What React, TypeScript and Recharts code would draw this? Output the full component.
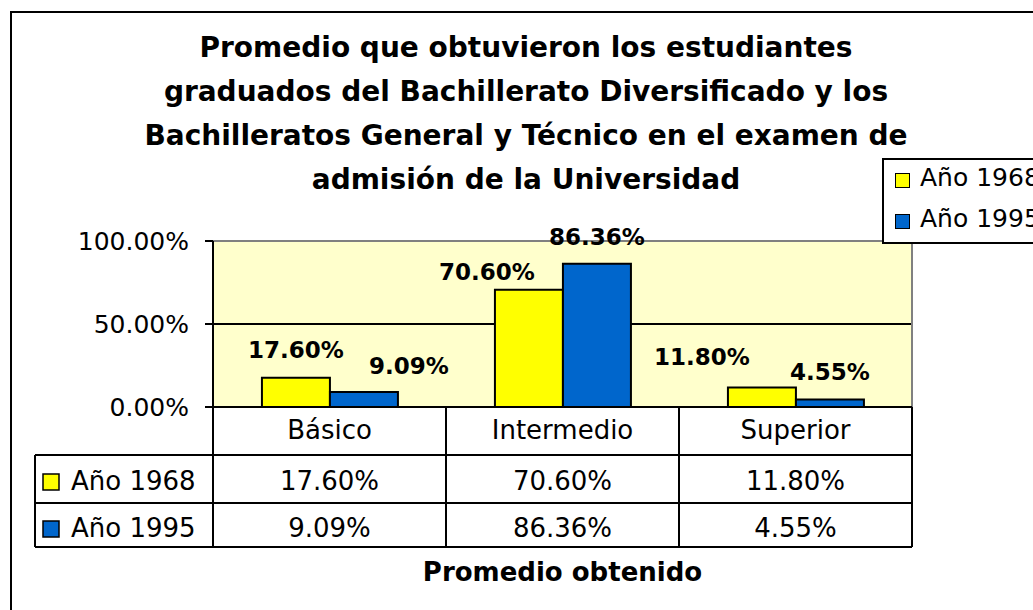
import { BarChart, Bar, XAxis, YAxis, CartesianGrid, ReferenceArea, Legend, LabelList } from 'recharts';

const CATEGORIES = ['Básico', 'Intermedio', 'Superior'];
const SERIES_NAMES = ['Año 1968', 'Año 1995'];
const VALUES_1968 = [17.6, 70.6, 11.8];
const VALUES_1995 = [9.09, 86.36, 4.55];
const Y_TICKS = [0, 50, 100];
const TITLE_LINES = [
  'Promedio que obtuvieron los estudiantes',
  'graduados del Bachillerato Diversificado y los',
  'Bachilleratos General y Técnico en el examen de',
  'admisión de la Universidad',
];
const AXIS_TITLE = 'Promedio obtenido';

const COLORS = ['#FFFF00', '#0066CC'];

// layout
const W = 1033;
const H = 610;
const PLOT_LEFT = 213;
const PLOT_RIGHT = 912;
const PLOT_BOTTOM = 407;
const PLOT_TOP = 241;
const TABLE_H = 140;
const TABLE_LEFT = 35;
const BAND = (PLOT_RIGHT - PLOT_LEFT) / CATEGORIES.length;
const ROW_LINES = [48, 96, 140];
const ROW_TEXT = [83, 130];

// hand-placed label nudges, like the original sheet
const NUDGES = [
  [{ dx: 0, dy: -20 }, { dx: -42, dy: -10 }, { dx: -60, dy: -22 }],
  [{ dx: 45, dy: -18 }, { dx: 0, dy: -19 }, { dx: 0, dy: -19 }],
];

const SERIES_VALUES = [VALUES_1968, VALUES_1995];
const KEYS = ['y1968', 'y1995'];

const data = CATEGORIES.map((name, i) => ({
  name,
  y1968: VALUES_1968[i],
  y1995: VALUES_1995[i],
}));

const pct = (v: number) => `${v.toFixed(2)}%`;

const line = { stroke: '#000', strokeWidth: 2 };

function TableTick(props: any) {
  const { x, y, payload, index } = props;
  const left = x - BAND / 2;
  const right = x + BAND / 2;
  return (
    <g>
      <line x1={left} y1={y} x2={left} y2={y + TABLE_H} {...line} />
      <line x1={right} y1={y} x2={right} y2={y + TABLE_H} {...line} />
      {ROW_LINES.map((d) => (
        <line key={d} x1={left} y1={y + d} x2={right} y2={y + d} {...line} />
      ))}
      <text x={x} y={y + 32} textAnchor="middle" fontSize={26} fill="#000">
        {payload.value}
      </text>
      {SERIES_VALUES.map((vals, r) => (
        <text key={r} x={x} y={y + ROW_TEXT[r]} textAnchor="middle" fontSize={26} fill="#000">
          {pct(vals[index])}
        </text>
      ))}
      {index === 0 && (
        <g>
          <line x1={TABLE_LEFT} y1={y + ROW_LINES[0]} x2={TABLE_LEFT} y2={y + TABLE_H} {...line} />
          {ROW_LINES.map((d) => (
            <line key={d} x1={TABLE_LEFT} y1={y + d} x2={left} y2={y + d} {...line} />
          ))}
          {SERIES_NAMES.map((name, r) => (
            <g key={name}>
              <rect
                x={TABLE_LEFT + 8}
                y={y + ROW_TEXT[r] - 16}
                width={16}
                height={16}
                fill={COLORS[r]}
                stroke="#000"
                strokeWidth={1.5}
              />
              <text x={TABLE_LEFT + 36} y={y + ROW_TEXT[r]} fontSize={26} fill="#000">
                {name}
              </text>
            </g>
          ))}
        </g>
      )}
    </g>
  );
}

function makeLabel(series: number) {
  return (props: any) => {
    const { x, y, width, value, index } = props;
    const n = NUDGES[series][index];
    return (
      <text
        x={x + width / 2 + n.dx}
        y={y + n.dy}
        textAnchor="middle"
        fontSize={23}
        fontWeight="bold"
        fill="#000"
      >
        {pct(value)}
      </text>
    );
  };
}

function LegendBox(props: any) {
  const { payload } = props;
  return (
    <div
      style={{
        position: 'relative',
        width: 200,
        height: 82,
        border: '2px solid #000',
        background: '#fff',
      }}
    >
      {payload.map((entry: any, i: number) => (
        <div key={entry.value}>
          <span
            style={{
              position: 'absolute',
              left: 11,
              top: 13 + i * 41,
              width: 13,
              height: 13,
              background: entry.color,
              border: '1.5px solid #000',
            }}
          />
          <span
            style={{
              position: 'absolute',
              left: 36,
              top: 3 + i * 41,
              fontSize: 25,
              lineHeight: '30px',
              whiteSpace: 'nowrap',
              color: '#000',
            }}
          >
            {entry.value}
          </span>
        </div>
      ))}
    </div>
  );
}

export default function App() {
  return (
    <div
      style={{
        position: 'absolute',
        left: 0,
        top: 0,
        width: W,
        height: H,
        overflow: 'hidden',
        background: '#fff',
        fontFamily: '"DejaVu Sans", sans-serif',
      }}
    >
      <div
        style={{
          position: 'absolute',
          left: 10,
          top: 11,
          width: 1200,
          height: 800,
          border: '2px solid #000',
        }}
      />
      <div
        style={{
          position: 'absolute',
          left: 26,
          top: 26,
          width: 1000,
          textAlign: 'center',
          fontSize: 28,
          fontWeight: 'bold',
          lineHeight: '44px',
          color: '#000',
        }}
      >
        {TITLE_LINES.map((t) => (
          <div key={t}>{t}</div>
        ))}
      </div>
      <div style={{ position: 'absolute', left: 0, top: 0 }}>
        <BarChart
          width={W}
          height={H}
          data={data}
          margin={{ top: PLOT_TOP, right: W - PLOT_RIGHT, bottom: H - PLOT_BOTTOM - TABLE_H, left: 0 }}
          barCategoryGap="21%"
          barGap={0}
        >
          <CartesianGrid vertical={false} stroke="#000" strokeWidth={2} fill="#FFFFCC" fillOpacity={1} />
          <ReferenceArea
            x1={CATEGORIES[0]}
            x2={CATEGORIES[CATEGORIES.length - 1]}
            y1={0}
            y2={100}
            fill="none"
            stroke="#808080"
            strokeWidth={2}
          />
          <YAxis
            width={PLOT_LEFT}
            domain={[0, 100]}
            ticks={Y_TICKS}
            tickFormatter={pct}
            axisLine={{ stroke: '#000', strokeWidth: 2 }}
            tickLine={{ stroke: '#000', strokeWidth: 2 }}
            tickSize={8}
            tickMargin={16}
            tick={{ fontSize: 25, fill: '#000' }}
          />
          <XAxis
            dataKey="name"
            height={TABLE_H}
            interval={0}
            tickSize={0}
            tickMargin={0}
            tickLine={false}
            axisLine={{ stroke: '#000', strokeWidth: 2 }}
            tick={<TableTick />}
            label={{
              value: AXIS_TITLE,
              position: 'bottom',
              offset: 16,
              fontSize: 26,
              fontWeight: 'bold',
              fill: '#000',
            }}
          />
          <Legend
            layout="horizontal"
            verticalAlign="middle"
            align="center"
            content={<LegendBox />}
            wrapperStyle={{ left: 882, top: 158, width: 'auto', height: 'auto' }}
          />
          {KEYS.map((k, s) => (
            <Bar
              key={k}
              dataKey={k}
              name={SERIES_NAMES[s]}
              fill={COLORS[s]}
              stroke="#000"
              strokeWidth={2}
              isAnimationActive={false}
            >
              <LabelList dataKey={k} content={makeLabel(s)} />
            </Bar>
          ))}
        </BarChart>
      </div>
    </div>
  );
}
